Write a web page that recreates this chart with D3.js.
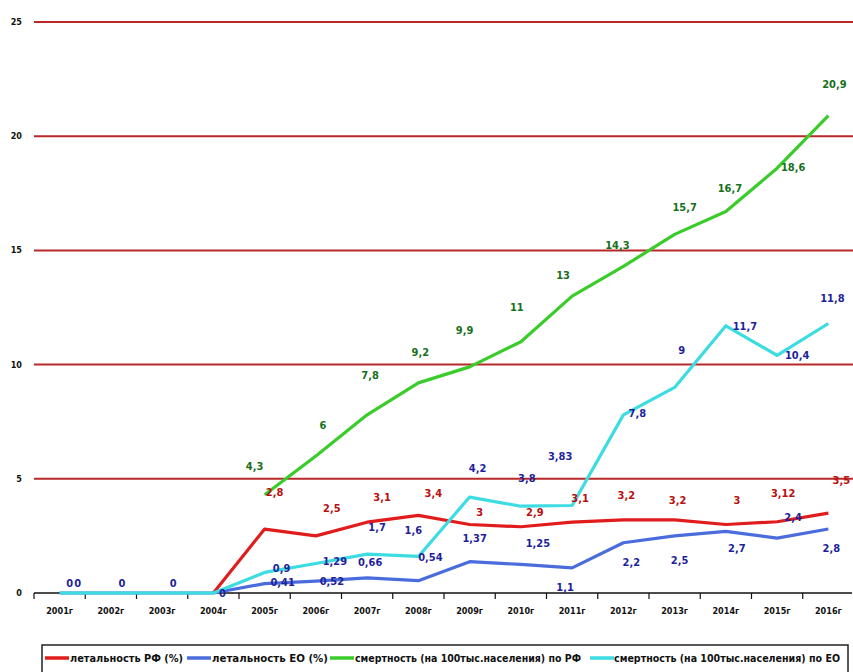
<!DOCTYPE html>
<html>
<head>
<meta charset="utf-8">
<script src="https://cdn.jsdelivr.net/npm/d3@7/dist/d3.min.js"></script>
<style>
  html, body { margin: 0; padding: 0; background: #fff; }
  svg { display: block; }
  text { font-family: "DejaVu Sans Condensed", "Liberation Sans Narrow", "Arial Narrow", sans-serif; font-weight: bold; }
</style>
</head>
<body>
<svg id="chart" width="853" height="672"></svg>
<script>
// Years on the category axis
const years = ["2001г","2002г","2003г","2004г","2005г","2006г","2007г","2008г",
               "2009г","2010г","2011г","2012г","2013г","2014г","2015г","2016г"];

// летальность РФ (%)
const lethalRF = [null, null, null, 0, 2.8, 2.5, 3.1, 3.4, 3, 2.9, 3.1, 3.2, 3.2, 3, 3.12, 3.5];
// летальность ЕО (%)
const lethalEO = [0, 0, 0, 0, 0.41, 0.52, 0.66, 0.54, 1.37, 1.25, 1.1, 2.2, 2.5, 2.7, 2.4, 2.8];
// смертность (на 100тыс.населения) по РФ
const mortRF = [null, null, null, null, 4.3, 6, 7.8, 9.2, 9.9, 11, 13, 14.3, 15.7, 16.7, 18.6, 20.9];
// смертность (на 100тыс.населения) по ЕО
const mortEO = [0, 0, 0, 0, 0.9, 1.29, 1.7, 1.6, 4.2, 3.8, 3.83, 7.8, 9, 11.7, 10.4, 11.8];

// Which points carry a value label
const showRF  = [0,0,0,0,1,1,1,1,1,1,1,1,1,1,1,1];
const showLEO = [1,0,0,1,1,1,1,1,1,1,1,1,1,1,1,1];
const showMRF = [0,0,0,0,1,1,1,1,1,1,1,1,1,1,1,1];
const showMEO = [1,1,1,0,1,1,1,1,1,1,1,1,1,1,1,1];

const yTicks = [0, 5, 10, 15, 20, 25];

const legendLabels = [
  "летальность РФ (%)",
  "летальность ЕО (%)",
  "смертность (на 100тыс.населения) по РФ",
  "смертность (на 100тыс.населения) по ЕО"
];

// Label placement offsets (dx, dy) relative to each point
const offRF  = [[0,0],[0,0],[0,0],[0,0],[10,-37],[16,-28],[15,-25],[15,-22],[10,-12],[14,-15],[8,-24],[3,-25],[3,-20],[11,-24],[6,-29],[13,-33]];
const offLEO = [[10,-10],[0,0],[0,0],[9,0],[18,-2],[16,0],[3,-16],[12,-24],[5,-24],[17,-21],[-7,19],[8,19],[5,24],[11,17],[16,-21],[3,19]];
const offMRF = [[0,0],[0,0],[0,0],[0,0],[-10,-29],[7,-31],[3,-40],[2,-31],[-5,-37],[-4,-35],[-9,-21],[-6,-21],[10,-27],[4,-24],[16,-1],[6,-32]];
const offMEO = [[18,-10],[11,-10],[11,-10],[0,0],[17,-4],[19,-3],[10,-27],[-5,-26],[8,-29],[6,-28],[-12,-50],[14,-2],[7,-37],[19,0],[20,0],[4,-25]];

const series = [
  { values: lethalRF, show: showRF,  off: offRF,  line: "#e01c1c", label: "#b80f0f" },
  { values: lethalEO, show: showLEO, off: offLEO, line: "#4a6cdc", label: "#1f1f9a" },
  { values: mortRF,   show: showMRF, off: offMRF, line: "#3acc2a", label: "#17701a" },
  { values: mortEO,   show: showMEO, off: offMEO, line: "#3ddbe2", label: "#1f1f9a" }
];

const svg = d3.select("#chart");

const x = d3.scaleBand().domain(years).range([34, 854]).padding(0);
const y = d3.scaleLinear().domain([0, 25]).range([593, 22]);
const cx = d => x(d) + x.bandwidth() / 2;

const fmt = v => String(v).replace(".", ",");

// Horizontal grid lines
svg.append("g")
  .selectAll("line")
  .data(yTicks.filter(t => t > 0))
  .join("line")
  .attr("x1", 34).attr("x2", 853)
  .attr("y1", d => y(d)).attr("y2", d => y(d))
  .attr("stroke", "#b82828")
  .attr("stroke-width", 2);

// Y tick labels
svg.append("g")
  .selectAll("text")
  .data(yTicks)
  .join("text")
  .attr("x", 22)
  .attr("y", d => y(d) + 3)
  .attr("text-anchor", "end")
  .attr("font-size", 9)
  .attr("fill", "#111")
  .text(d => d);

// X axis: ticks between categories
const xAxis = d3.axisBottom(x).tickSize(0).tickPadding(15);
const gx = svg.append("g")
  .attr("transform", `translate(0,${y(0)})`)
  .call(xAxis);
gx.select(".domain").attr("stroke", "#111").attr("stroke-width", 1.5).attr("d", "M34,0H852");
gx.selectAll(".tick text")
  .attr("font-size", 9)
  .attr("fill", "#111")
  .attr("font-family", null);
svg.append("g")
  .selectAll("line")
  .data(years.slice(1))
  .join("line")
  .attr("x1", d => x(d)).attr("x2", d => x(d))
  .attr("y1", y(0)).attr("y2", y(0) + 6)
  .attr("stroke", "#111")
  .attr("stroke-width", 1.2);
svg.append("line")
  .attr("x1", 34).attr("x2", 34)
  .attr("y1", y(0)).attr("y2", y(0) + 6)
  .attr("stroke", "#111").attr("stroke-width", 1.2);

// Series lines
const lineGen = d3.line()
  .defined(d => d.v !== null)
  .x(d => cx(d.year))
  .y(d => y(d.v));

series.forEach(s => {
  const pts = years.map((yr, i) => ({ year: yr, v: s.values[i], i }));
  svg.append("path")
    .datum(pts)
    .attr("fill", "none")
    .attr("stroke", s.line)
    .attr("stroke-width", 3.2)
    .attr("stroke-linejoin", "round")
    .attr("d", lineGen);
});

// Value labels
series.forEach(s => {
  const pts = years.map((yr, i) => ({ year: yr, v: s.values[i], i }))
    .filter(d => d.v !== null && s.show[d.i]);
  svg.append("g")
    .selectAll("text")
    .data(pts)
    .join("text")
    .attr("x", d => cx(d.year) + s.off[d.i][0])
    .attr("y", d => y(d.v) + s.off[d.i][1] + 4)
    .attr("text-anchor", "middle")
    .attr("font-size", 11)
    .attr("fill", s.label)
    .text(d => fmt(d.v));
});

// Legend
const legend = svg.append("g");
legend.append("rect")
  .attr("x", 42).attr("y", 645)
  .attr("width", 806).attr("height", 40)
  .attr("fill", "#fff")
  .attr("stroke", "#222")
  .attr("stroke-width", 1.5);

const legendItems = [
  { x: 45,  tx: 70,  w: 113 },
  { x: 187, tx: 212, w: 116 },
  { x: 330, tx: 355, w: 226 },
  { x: 590, tx: 614, w: 226 }
];
legendItems.forEach((it, i) => {
  legend.append("line")
    .attr("x1", it.x).attr("x2", it.x + 24)
    .attr("y1", 658).attr("y2", 658)
    .attr("stroke", series[i].line)
    .attr("stroke-width", 3.5);
  legend.append("text")
    .attr("x", it.tx).attr("y", 662)
    .attr("font-size", 10)
    .attr("fill", "#111")
    .attr("textLength", it.w)
    .attr("lengthAdjust", "spacingAndGlyphs")
    .text(legendLabels[i]);
});
</script>
</body>
</html>
